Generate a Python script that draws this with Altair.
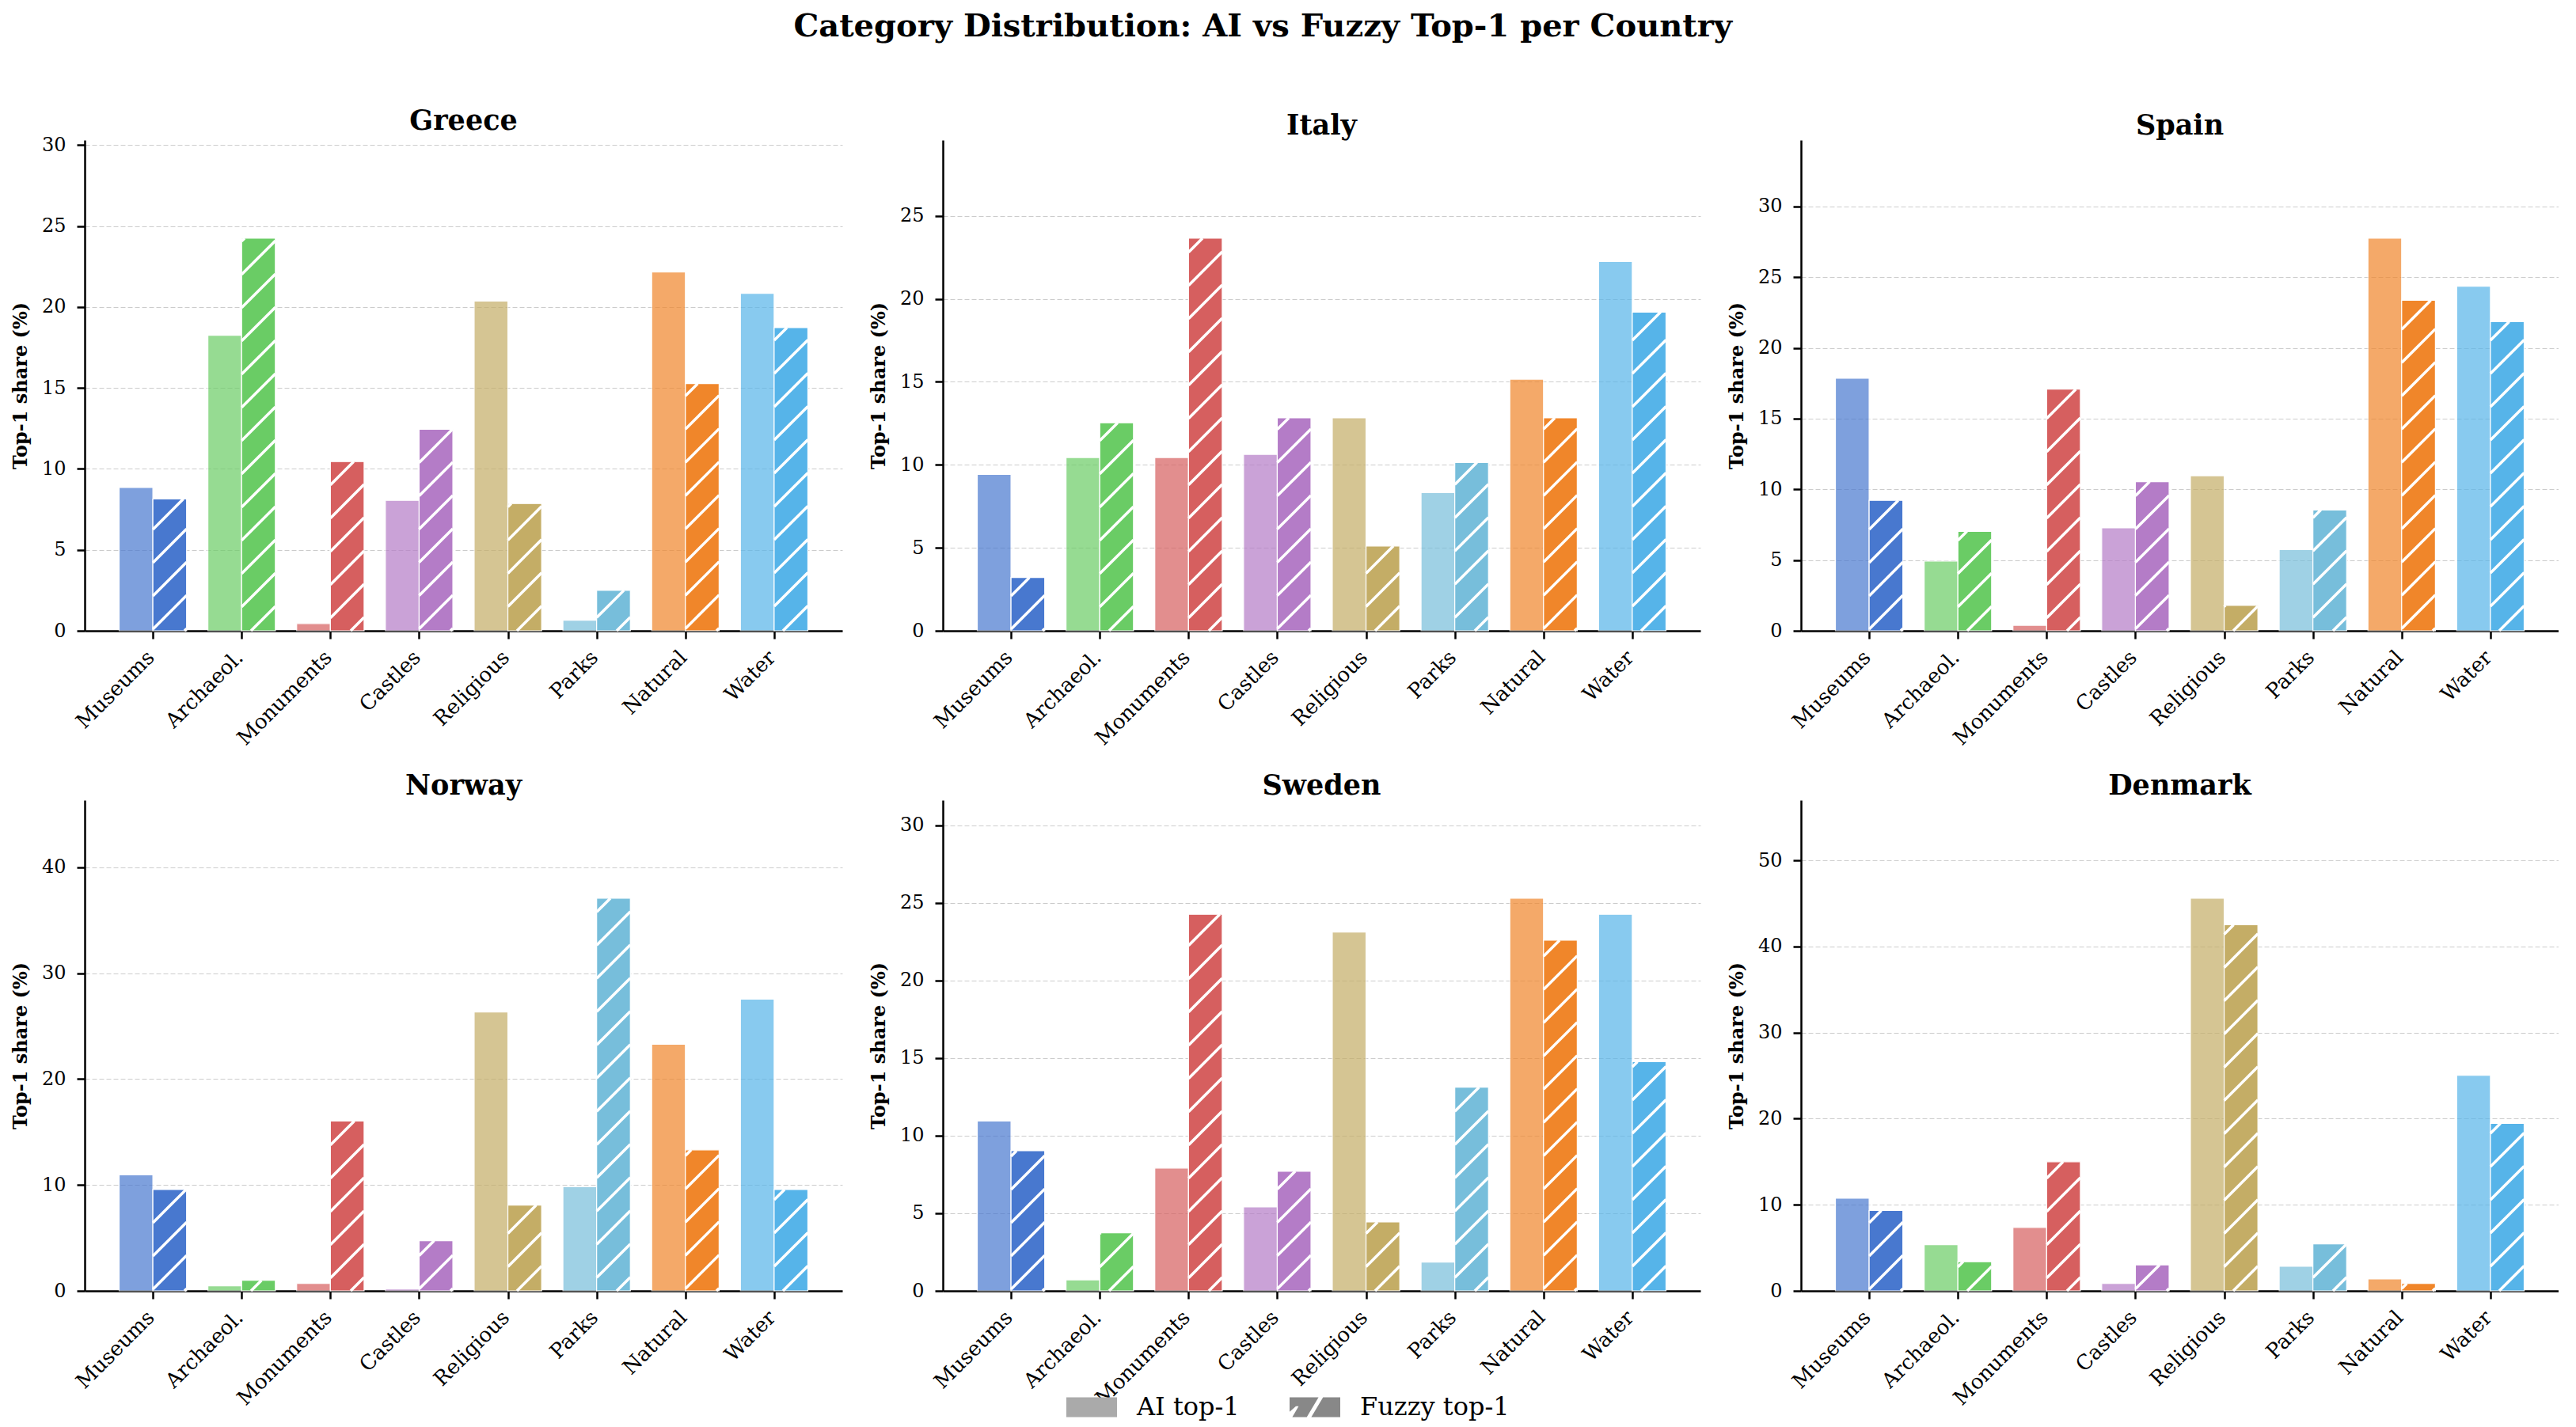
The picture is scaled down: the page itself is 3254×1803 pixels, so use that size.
import json
import math

import altair as alt
import pandas as pd

# Values (% of top-1 matches per category)
categories = ["Museums", "Archaeol.", "Monuments", "Castles", "Religious", "Parks", "Natural", "Water"]
cat_colors = ["#4878CF", "#6ACC65", "#D65F5F", "#B47CC7", "#C4AD66", "#77BEDB", "#F0862A", "#56B4E9"]
countries = ["Greece", "Italy", "Spain", "Norway", "Sweden", "Denmark"]

ai_greece = [8.85, 18.25, 0.45, 8.06, 20.37, 0.65, 22.17, 20.85]
fuzzy_greece = [8.14, 24.25, 10.45, 12.45, 7.86, 2.5, 15.27, 18.73]
ai_italy = [9.42, 10.44, 10.44, 10.63, 12.83, 8.32, 15.16, 22.25]
fuzzy_italy = [3.21, 12.53, 23.65, 12.83, 5.11, 10.14, 12.83, 19.2]
ai_spain = [17.85, 4.93, 0.39, 7.28, 10.96, 5.74, 27.75, 24.36]
fuzzy_spain = [9.22, 7.03, 17.08, 10.54, 1.8, 8.54, 23.36, 21.85]
ai_norway = [10.95, 0.47, 0.69, 0.17, 26.34, 9.83, 23.28, 27.54]
fuzzy_norway = [9.57, 0.99, 16.03, 4.74, 8.1, 37.07, 13.32, 9.57]
ai_sweden = [10.94, 0.71, 7.91, 5.41, 23.12, 1.85, 25.29, 24.26]
fuzzy_sweden = [9.03, 3.74, 24.26, 7.71, 4.44, 13.12, 22.59, 14.76]
ai_denmark = [10.76, 5.36, 7.37, 0.85, 45.6, 2.86, 1.38, 25.03]
fuzzy_denmark = [9.33, 3.39, 15.0, 3.02, 42.52, 5.46, 0.85, 19.46]

series = ["AI top-1", "Fuzzy top-1"]

ai_values = [ai_greece, ai_italy, ai_spain, ai_norway, ai_sweden, ai_denmark]
fuzzy_values = [fuzzy_greece, fuzzy_italy, fuzzy_spain, fuzzy_norway, fuzzy_sweden, fuzzy_denmark]

FONT = "DejaVu Serif"
PANEL_W = 957
PANEL_H = 620
BAR_W = 0.38
N = len(categories)
MARGIN = 0.05 * (N - 1 + 2 * BAR_W)
XMIN = -BAR_W - MARGIN
XMAX = N - 1 + BAR_W + MARGIN
HATCH_GAP = 42  # vertical pixel distance between hatch lines


def hatch_segments(fuzzy, ymax):
    # white "/" hatch clipped to each fuzzy bar, 45 degrees on screen
    sx = PANEL_W / (XMAX - XMIN)
    sy = PANEL_H / ymax
    rows = []
    for i, v in enumerate(fuzzy):
        x0 = (i - XMIN) * sx
        x1 = (i + BAR_W - XMIN) * sx
        top = v * sy
        for k in range(math.floor(-x1 / HATCH_GAP) - 1, math.ceil((top - x0) / HATCH_GAP) + 2):
            c = k * HATCH_GAP
            lo = max(x0, -c)
            hi = min(x1, top - c)
            if hi - lo > 1:
                rows.append({"hx0": lo / sx + XMIN, "hx1": hi / sx + XMIN,
                             "hy0": (lo + c) / sy, "hy1": (hi + c) / sy})
    return pd.DataFrame(rows)


def panel(name, ai, fuzzy, with_legend=False):
    ymax = max(ai + fuzzy) * 1.25
    df = pd.DataFrame({"category": categories, "idx": list(range(N)),
                       "ai": ai, "fuzzy": fuzzy, "color": cat_colors})
    df["ai_x0"] = df["idx"] - BAR_W
    df["fz_x1"] = df["idx"] + BAR_W

    x_scale = alt.Scale(domain=[XMIN, XMAX], nice=False, zero=False)
    y_scale = alt.Scale(domain=[0, ymax], nice=False)
    x_axis = alt.Axis(values=list(range(N)), labelExpr=f"{json.dumps(categories)}[datum.value]",
                      title=None, grid=False, labelAngle=315, labelAlign="right",
                      labelBaseline="top", labelOffset=-12, labelPadding=10,
                      labelOverlap=False, labelFontSize=26, labelBound=False, labelFlush=False)
    y_axis = alt.Axis(title="Top-1 share (%)", tickCount=6, grid=True)

    ai_bars = alt.Chart(df).mark_rect(opacity=0.7, stroke="white", strokeWidth=1.2).encode(
        x=alt.X("ai_x0:Q", scale=x_scale, axis=x_axis),
        x2="idx:Q",
        y=alt.Y("ai:Q", scale=y_scale, axis=y_axis),
        y2=alt.datum(0),
        fill=alt.Fill("color:N", scale=None),
        tooltip=["category", "ai"],
    )
    fuzzy_bars = alt.Chart(df).mark_rect(stroke="white", strokeWidth=1.2).encode(
        x=alt.X("idx:Q", scale=x_scale, axis=x_axis),
        x2="fz_x1:Q",
        y=alt.Y("fuzzy:Q", scale=y_scale, axis=y_axis),
        y2=alt.datum(0),
        fill=alt.Fill("color:N", scale=None),
        tooltip=["category", "fuzzy"],
    )
    hatch = alt.Chart(hatch_segments(fuzzy, ymax)).mark_rule(
        color="white", strokeWidth=3.5, strokeCap="butt"
    ).encode(
        x=alt.X("hx0:Q", scale=x_scale, axis=x_axis),
        x2="hx1:Q",
        y=alt.Y("hy0:Q", scale=y_scale, axis=y_axis),
        y2="hy1:Q",
    )
    layers = [ai_bars, fuzzy_bars, hatch]

    if with_legend:
        ai_path = "M-1.4,-0.55H1.4V0.55H-1.4Z"
        fz_path = ("M-1.4,-0.55H1.4V0.55H-1.4Z"
                   "M-0.45,0.55L-0.2,0.55L0.45,-0.55L0.2,-0.55Z"
                   "M-1.4,0.25L-1.4,0.55L-1.25,0.55L-0.9,-0.05L-1.05,-0.05Z")
        # legend coordinates are taken from the first panel's plot origin
        leg = alt.Legend(title=None, orient="none", legendX=1249, legendY=1578,
                         direction="horizontal", columns=2, symbolSize=2090,
                         symbolOpacity=1, symbolStrokeWidth=0, labelFont=FONT,
                         labelFontSize=32, labelOffset=34, columnPadding=62,
                         labelColor="black", labelLimit=0)
        legend_layer = alt.Chart(pd.DataFrame({"series": series})).mark_point(
            filled=True, opacity=0
        ).encode(
            color=alt.Color("series:N", scale=alt.Scale(domain=series, range=["#aaaaaa", "#888888"]),
                            legend=leg),
            shape=alt.Shape("series:N", scale=alt.Scale(domain=series, range=[ai_path, fz_path]),
                            legend=leg),
        )
        layers.append(legend_layer)

    return alt.layer(*layers).properties(
        width=PANEL_W, height=PANEL_H,
        title=alt.TitleParams(name, font=FONT, fontSize=35, fontWeight="bold", offset=0),
    )


panels = [panel(c, a, f, with_legend=(c == "Sweden"))
          for c, a, f in zip(countries, ai_values, fuzzy_values)]

chart = alt.vconcat(
    alt.hconcat(*panels[:3], spacing=34),
    alt.hconcat(*panels[3:], spacing=34),
    spacing=30,
).properties(
    title=alt.TitleParams("Category Distribution: AI vs Fuzzy Top-1 per Country",
                          font=FONT, fontSize=40, fontWeight="bold", anchor="middle",
                          offset=82, dx=-28),
    padding={"left": 6, "top": 6, "right": 0, "bottom": 30},
).configure(
    font=FONT,
).configure_view(
    stroke=None,
).configure_axis(
    labelFont=FONT, labelFontSize=24, labelColor="black",
    titleFont=FONT, titleFontSize=24, titleFontWeight="bold", titleColor="black",
    domainColor="black", domainWidth=2.5, tickColor="black", tickWidth=2.5, tickSize=10,
    gridColor="#cccccc", gridDash=[6, 3], gridWidth=1,
).configure_axisY(
    labelPadding=14, titlePadding=14,
)

chart.save("out.html", embed_options={"renderer": "svg", "actions": False})
